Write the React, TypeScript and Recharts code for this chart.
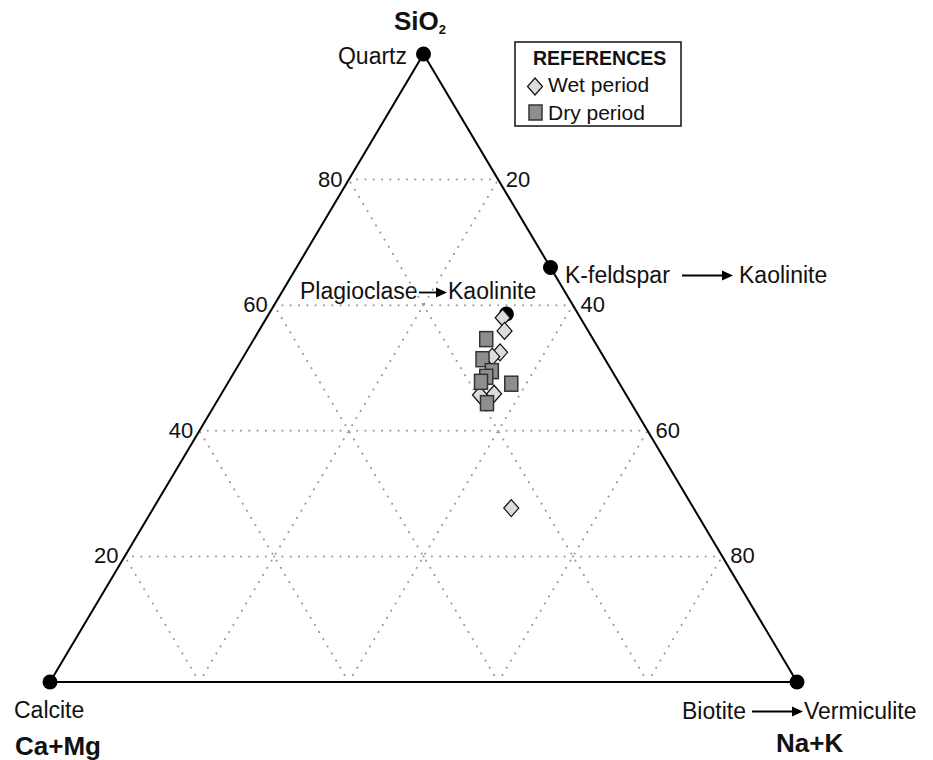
import React from 'react';
import { ScatterChart, Scatter, XAxis, YAxis, ReferenceLine, Customized } from 'recharts';

// ternary compositions in % (SiO2, Na+K, Ca+Mg)
const wetPeriod = [
  { sio2: 58.0, nak: 31.6, camg: 10.4 },
  { sio2: 55.9, nak: 32.9, camg: 11.2 },
  { sio2: 52.5, nak: 34.0, camg: 13.5 },
  { sio2: 51.8, nak: 33.3, camg: 14.9 },
  { sio2: 45.7, nak: 34.7, camg: 19.6 },
  { sio2: 45.9, nak: 36.5, camg: 17.6 },
  { sio2: 27.7, nak: 47.9, camg: 24.4 },
];

const dryPeriod = [
  { sio2: 54.6, nak: 31.1, camg: 14.3 },
  { sio2: 51.4, nak: 32.2, camg: 16.4 },
  { sio2: 49.5, nak: 34.4, camg: 16.1 },
  { sio2: 48.6, nak: 34.1, camg: 17.3 },
  { sio2: 47.8, nak: 33.8, camg: 18.4 },
  { sio2: 47.5, nak: 38.0, camg: 14.5 },
  { sio2: 44.4, nak: 36.3, camg: 19.3 },
];

const minerals = [
  { name: 'Quartz', sio2: 100, nak: 0, camg: 0 },
  { name: 'Calcite', sio2: 0, nak: 0, camg: 100 },
  { name: 'Biotite', sio2: 0, nak: 100, camg: 0 },
  { name: 'K-feldspar', sio2: 66, nak: 34, camg: 0 },
  { name: 'Plagioclase', sio2: 58.6, nak: 31.8, camg: 9.6 },
];

const gridSteps = [20, 40, 60, 80];
const leftTicks = ['80', '60', '40', '20'];
const rightTicks = ['20', '40', '60', '80'];

const FONT = '"Liberation Sans", Arial, Helvetica, sans-serif';

type Comp = { sio2: number; nak: number; camg: number };

const toXY = (c: Comp) => {
  const t = c.sio2 + c.nak + c.camg;
  const s = c.sio2 / t;
  const n = c.nak / t;
  return { x: n + s / 2, y: s };
};

// grid lines: constant SiO2, constant Na+K, constant Ca+Mg
const gridLines: Comp[][] = [];
gridSteps.forEach((k) => {
  gridLines.push([{ sio2: k, nak: 0, camg: 100 - k }, { sio2: k, nak: 100 - k, camg: 0 }]);
  gridLines.push([{ sio2: 0, nak: k, camg: 100 - k }, { sio2: 100 - k, nak: k, camg: 0 }]);
  gridLines.push([{ sio2: 0, nak: 100 - k, camg: k }, { sio2: 100 - k, nak: 0, camg: k }]);
});

const edges: Comp[][] = [
  [minerals[0], minerals[1]],
  [minerals[1], minerals[2]],
  [minerals[2], minerals[0]],
];

const Diamond = (props: any) => {
  const { cx, cy } = props;
  return (
    <path
      d={`M${cx},${cy - 8.5}L${cx + 7.5},${cy}L${cx},${cy + 8.5}L${cx - 7.5},${cy}Z`}
      fill="#dcdcdc"
      stroke="#111"
      strokeWidth={1.2}
    />
  );
};

const Square = (props: any) => {
  const { cx, cy } = props;
  return <rect x={cx - 6.5} y={cy - 7.5} width={13} height={15} fill="#8e8e8e" stroke="#333" strokeWidth={1.5} />;
};

const Dot = (props: any) => {
  const { cx, cy } = props;
  return <circle cx={cx} cy={cy} r={7.5} fill="#000" />;
};

const Arrow = ({ x1, x2, y }: { x1: number; x2: number; y: number }) => (
  <g>
    <line x1={x1} y1={y} x2={x2 - 9} y2={y} stroke="#000" strokeWidth={1.8} />
    <path d={`M${x2},${y}L${x2 - 11},${y - 5}L${x2 - 11},${y + 5}Z`} fill="#000" />
  </g>
);

const Annotations = () => {
  const t = { fontFamily: FONT, fontSize: 23, fill: '#111' };
  const k = { fontFamily: FONT, fontSize: 22, fill: '#111' };
  const b = { fontFamily: FONT, fontSize: 26, fontWeight: 'bold' as const, fill: '#111' };
  return (
    <g>
      <text x={420} y={30} textAnchor="middle" {...b}>
        SiO<tspan fontSize={13} dy={4}>2</tspan>
      </text>
      <text x={407} y={64} textAnchor="end" {...t}>Quartz</text>
      <text x={14} y={718} {...t}>Calcite</text>
      <text x={15} y={755} {...b}>Ca+Mg</text>
      <text x={682} y={719} {...t}>Biotite</text>
      <Arrow x1={752} x2={803} y={711.5} />
      <text x={804} y={719} {...t}>Vermiculite</text>
      <text x={776} y={752} {...b}>Na+K</text>
      <text x={565} y={283} {...t}>K-feldspar</text>
      <Arrow x1={682} x2={733} y={275.5} />
      <text x={739} y={283} {...t}>Kaolinite</text>
      <text x={300} y={299} {...t}>Plagioclase</text>
      <Arrow x1={419} x2={447} y={292.5} />
      <text x={448} y={299} {...t}>Kaolinite</text>

      {leftTicks.map((lab, i) => {
        const s = 0.8 - i * 0.2;
        const x = 50 + 373 * s;
        const y = 682 - 628 * s;
        return (
          <text key={'l' + lab} x={x - 6} y={y + 7} textAnchor="end" {...k}>{lab}</text>
        );
      })}
      {rightTicks.map((lab, i) => {
        const s = 0.8 - i * 0.2;
        const x = 797 - 374 * s;
        const y = 682 - 628 * s;
        return (
          <text key={'r' + lab} x={x + 8} y={y + 7} {...k}>{lab}</text>
        );
      })}

      <rect x={515} y={42} width={166} height={84} fill="#fff" stroke="#111" strokeWidth={1.5} />
      <text x={533} y={65} {...b} fontSize={19.5}>REFERENCES</text>
      <Diamond cx={535} cy={86.5} />
      <text x={548} y={92} {...t} fontSize={21}>Wet period</text>
      <Square cx={535.5} cy={112.5} />
      <text x={548} y={120} {...t} fontSize={21}>Dry period</text>
    </g>
  );
};

export default function App() {
  const wet = wetPeriod.map(toXY);
  const dry = dryPeriod.map(toXY);
  const mins = minerals.map(toXY);
  return (
    <div style={{ position: 'absolute', left: 0, top: 0, width: 933, height: 760, background: '#fff' }}>
      <ScatterChart width={933} height={760} margin={{ top: 54, right: 136, bottom: 78, left: 50 }}>
        <XAxis type="number" dataKey="x" domain={[0, 1]} hide />
        <YAxis type="number" dataKey="y" domain={[0, 1]} hide />
        {gridLines.map((seg, i) => (
          <ReferenceLine
            key={'g' + i}
            segment={[toXY(seg[0]), toXY(seg[1])]}
            stroke="#9a9a9a"
            strokeWidth={2}
            strokeDasharray="0.1 8.2"
            strokeLinecap="round"
            ifOverflow="visible"
          />
        ))}
        {edges.map((seg, i) => (
          <ReferenceLine
            key={'e' + i}
            segment={[toXY(seg[0]), toXY(seg[1])]}
            stroke="#000"
            strokeWidth={2}
            ifOverflow="visible"
          />
        ))}
        <Scatter data={mins} shape={Dot} isAnimationActive={false} />
        <Scatter data={wet} shape={Diamond} isAnimationActive={false} />
        <Scatter data={dry} shape={Square} isAnimationActive={false} />
        <Customized component={Annotations} />
      </ScatterChart>
    </div>
  );
}
